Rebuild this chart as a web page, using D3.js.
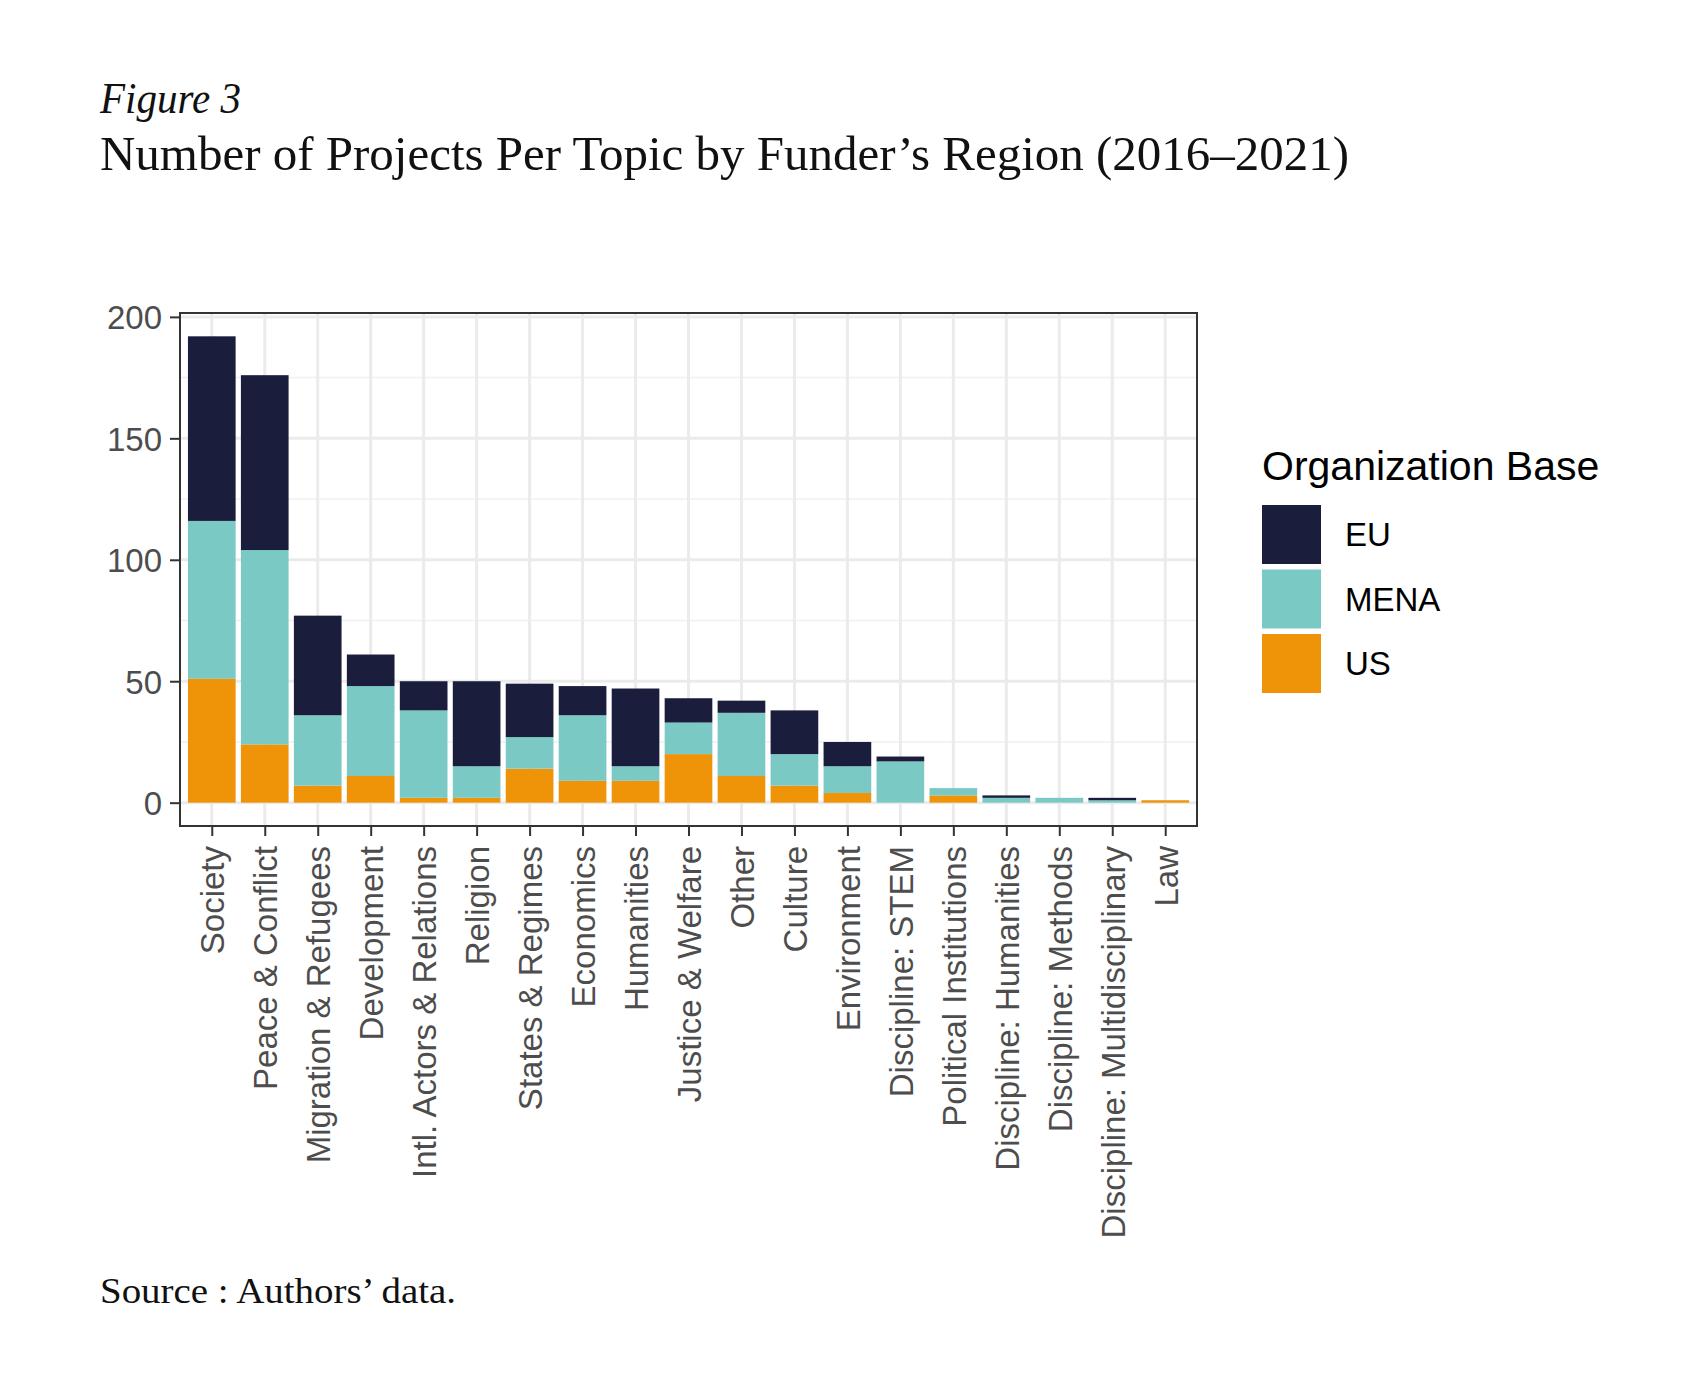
<!DOCTYPE html>
<html>
<head>
<meta charset="utf-8">
<script src="https://cdn.jsdelivr.net/npm/d3@7"></script>
<style>
  body { margin: 0; background: #fff; }
  svg { display: block; }
</style>
</head>
<body>
<svg id="chart"></svg>
<script>
const topics = ["Society", "Peace & Conflict", "Migration & Refugees", "Development",
    "Intl. Actors & Relations", "Religion", "States & Regimes", "Economics", "Humanities",
    "Justice & Welfare", "Other", "Culture", "Environment", "Discipline: STEM",
    "Political Institutions", "Discipline: Humanities", "Discipline: Methods",
    "Discipline: Multidisciplinary", "Law"];
const usCounts   = [51, 24, 7, 11, 2, 2, 14, 9, 9, 20, 11, 7, 4, 0, 3, 0, 0, 0, 1];
const menaCounts = [65, 80, 29, 37, 36, 13, 13, 27, 6, 13, 26, 13, 11, 17, 3, 2, 2, 1, 0];
const euCounts   = [76, 72, 41, 13, 12, 35, 22, 12, 32, 10, 5, 18, 10, 2, 0, 1, 0, 1, 0];
const regions = ["EU", "MENA", "US"];
const yTicks = [0, 50, 100, 150, 200];
const yMinor = [25, 75, 125, 175];

const W = 1688, H = 1389;
const panel = { left: 180, right: 1197, top: 313, bottom: 826 };

const svg = d3.select("#chart").attr("width", W).attr("height", H);

const color = d3.scaleOrdinal()
    .domain(regions)
    .range(["#1a1d3b", "#7ac9c5", "#ef9309"]);

const rows = topics.map((t, i) => ({ topic: t, US: usCounts[i], MENA: menaCounts[i], EU: euCounts[i] }));
const series = d3.stack().keys(["US", "MENA", "EU"])(rows);

const x = d3.scalePoint()
    .domain(topics)
    .range([panel.left, panel.right])
    .padding(0.6);

const maxTotal = d3.max(rows, d => d.US + d.MENA + d.EU);
const y = d3.scaleLinear()
    .domain([-maxTotal * 0.05, maxTotal * 1.05])
    .range([panel.bottom, panel.top]);

const barW = x.step() * 0.9;

// titles
svg.append("text")
    .attr("x", 100).attr("y", 113)
    .style("font-family", "Liberation Serif, serif")
    .style("font-style", "italic")
    .style("font-size", "44px")
    .attr("textLength", 141).attr("lengthAdjust", "spacingAndGlyphs")
    .attr("fill", "#111")
    .text("Figure 3");

svg.append("text")
    .attr("x", 100).attr("y", 170)
    .style("font-family", "Liberation Serif, serif")
    .style("font-size", "48px")
    .attr("textLength", 1249).attr("lengthAdjust", "spacingAndGlyphs")
    .attr("fill", "#111")
    .text("Number of Projects Per Topic by Funder’s Region (2016–2021)");

svg.append("text")
    .attr("x", 100).attr("y", 1303)
    .style("font-family", "Liberation Serif, serif")
    .style("font-size", "35px")
    .attr("textLength", 356).attr("lengthAdjust", "spacingAndGlyphs")
    .attr("fill", "#111")
    .text("Source : Authors’ data.");

// grid
const grid = svg.append("g");
grid.selectAll(".minor").data(yMinor).join("line")
    .attr("x1", panel.left).attr("x2", panel.right)
    .attr("y1", d => y(d)).attr("y2", d => y(d))
    .attr("stroke", "#f0f0f0").attr("stroke-width", 1.5);
grid.selectAll(".major").data(yTicks).join("line")
    .attr("x1", panel.left).attr("x2", panel.right)
    .attr("y1", d => y(d)).attr("y2", d => y(d))
    .attr("stroke", "#ebebeb").attr("stroke-width", 3);
grid.selectAll(".vert").data(topics).join("line")
    .attr("x1", d => x(d)).attr("x2", d => x(d))
    .attr("y1", panel.top).attr("y2", panel.bottom)
    .attr("stroke", "#ebebeb").attr("stroke-width", 3);

// bars
svg.append("g").selectAll("g").data(series).join("g")
    .attr("fill", s => color(s.key))
    .selectAll("rect").data(s => s).join("rect")
    .attr("x", d => x(d.data.topic) - barW / 2)
    .attr("width", barW)
    .attr("y", d => y(d[1]))
    .attr("height", d => y(d[0]) - y(d[1]));

// panel border
svg.append("rect")
    .attr("x", panel.left).attr("y", panel.top)
    .attr("width", panel.right - panel.left).attr("height", panel.bottom - panel.top)
    .attr("fill", "none").attr("stroke", "#333").attr("stroke-width", 2);

// axes
const yAxis = svg.append("g")
    .attr("transform", `translate(${panel.left}, 0)`)
    .call(d3.axisLeft(y).tickValues(yTicks).tickSize(10).tickPadding(8));
yAxis.select(".domain").remove();
yAxis.selectAll("line").attr("stroke", "#333").attr("stroke-width", 2);
yAxis.selectAll("text")
    .attr("fill", "#4d4d4d")
    .style("font-family", "Liberation Sans, Arial, sans-serif")
    .style("font-size", "33px")
    .attr("dy", "0.36em");

const xAxis = svg.append("g")
    .attr("transform", `translate(0, ${panel.bottom})`)
    .call(d3.axisBottom(x).tickSize(10).tickPadding(0));
xAxis.select(".domain").remove();
xAxis.selectAll("line").attr("stroke", "#333").attr("stroke-width", 2);
xAxis.selectAll("text")
    .attr("fill", "#4d4d4d")
    .style("font-family", "Liberation Sans, Arial, sans-serif")
    .style("font-size", "33px")
    .attr("text-anchor", "end")
    .attr("transform", "translate(0, 20) rotate(-90)")
    .attr("x", 0).attr("y", 0)
    .attr("dy", "0.36em");

// legend
const legend = svg.append("g").attr("transform", "translate(1262, 0)");
legend.append("text")
    .attr("x", 0).attr("y", 480)
    .style("font-family", "Liberation Sans, Arial, sans-serif")
    .style("font-size", "41px")
    .attr("fill", "#000")
    .text("Organization Base");

regions.forEach((r, i) => {
    const top = 505 + i * 64.5;
    legend.append("rect")
        .attr("x", 0).attr("y", top)
        .attr("width", 59).attr("height", 59)
        .attr("fill", color(r));
    legend.append("text")
        .attr("x", 83).attr("y", top + 29.5)
        .attr("dy", "0.36em")
        .style("font-family", "Liberation Sans, Arial, sans-serif")
        .style("font-size", "33px")
        .attr("fill", "#000")
        .text(r);
});
</script>
</body>
</html>
